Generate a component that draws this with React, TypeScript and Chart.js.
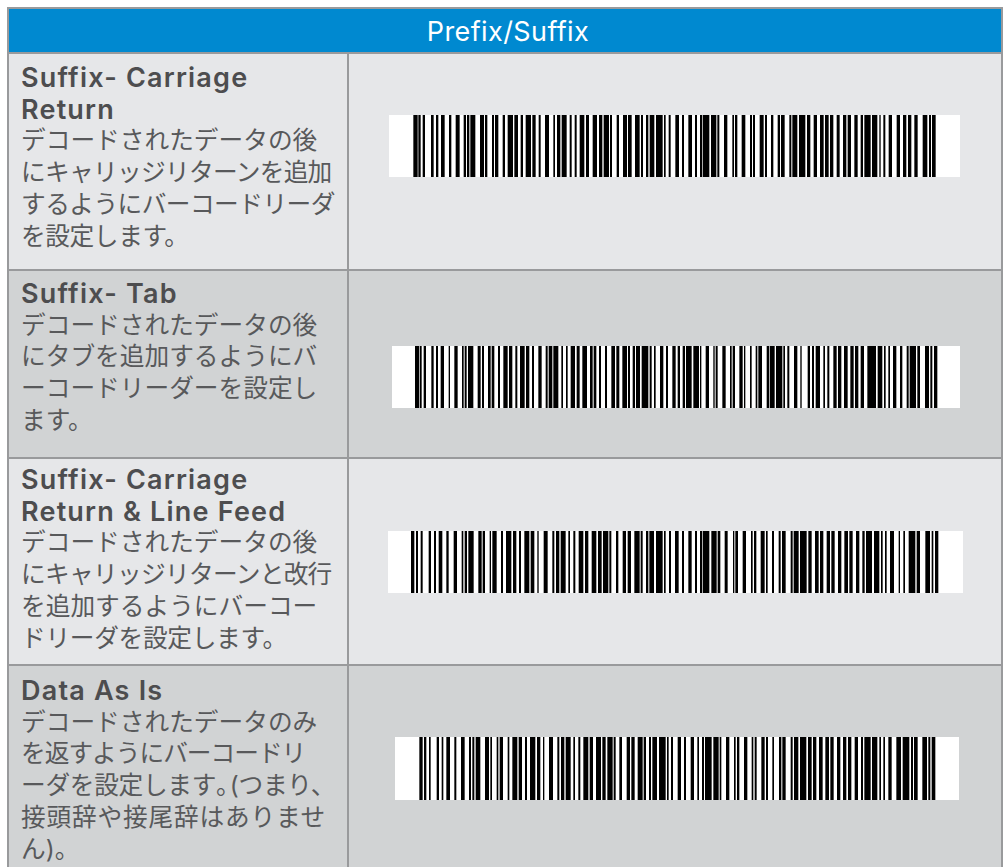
import React, { useEffect, useRef } from "react";
import { Chart, registerables } from "chart.js";

Chart.register(...registerables);

const headerTitle = "Prefix/Suffix";

const titles = [
  ["Suffix- Carriage", "Return"],
  ["Suffix- Tab"],
  ["Suffix- Carriage", "Return & Line Feed"],
  ["Data As Is"],
];

const descriptions = [
  ["デコードされたデータの後", "にキャリッジリターンを追加", "するようにバーコードリーダ", "を設定します。"],
  ["デコードされたデータの後", "にタブを追加するようにバ", "ーコードリーダーを設定し", "ます。"],
  ["デコードされたデータの後", "にキャリッジリターンと改行", "を追加するようにバーコー", "ドリーダを設定します。"],
  ["デコードされたデータのみ", "を返すようにバーコードリ", "ーダを設定します。(つまり、", "接頭辞や接尾辞はありませ", "ん)。"],
];

// Barcode bars as [start, end], in thirds of a picture pixel along each code's own axis.
const barsCarriageReturn: [number, number][] = [
  [85,98],[100,107],[113,120],[138,146],[153,160],[168,179],[192,199],[212,224],[236,243],[246,253],[256,271],[285,297],[300,307],[321,327],[330,340],[353,360],[368,384],[388,399],[407,414],[422,438],[442,452],[461,467],[480,492],[505,510],[516,526],[530,545],[554,560],[569,575],[584,598],[603,612],[623,636],[642,652],[656,672],[675,681],[695,702],[714,726],[729,740],[750,764],[768,774],[783,790],[794,808],[813,833],[837,842],[851,857],
  [871,882],[891,897],[910,921],[930,936],[945,951],[953,973],[978,994],[997,1003],[1017,1027],[1042,1047],[1050,1057],[1070,1081],[1095,1101],[1104,1110],[1124,1136],[1140,1146],[1158,1165],[1178,1185],[1188,1199],[1213,1219],[1222,1237],[1242,1261],[1266,1276],[1286,1296],[1305,1316],[1320,1331],[1335,1345],[1355,1364],[1374,1384],[1388,1398],[1408,1418],[1427,1434],[1438,1457],[1461,1477],[1483,1487],[1495,1501],[1511,1521],[1535,1545],[1554,1564],[1569,1579],[1588,1598],[1613,1627],[1632,1638],[1641,1652],
];
const barsTab: [number, number][] = [
  [90,103],[105,110],[116,123],[139,146],[153,159],[167,177],[191,195],[208,218],[231,236],[239,245],[249,265],[278,287],[291,297],[309,317],[320,328],[339,345],[355,368],[372,382],[391,397],[405,419],[423,433],[441,447],[460,470],[482,488],[491,502],[505,520],[529,534],[543,548],[557,570],[575,584],[592,606],[615,623],[626,634],[642,648],[660,666],[679,690],[694,703],[712,726],[729,735],[743,750],[753,765],[770,790],[794,800],[807,812],[825,835],[843,849],
  [862,872],[878,885],[893,900],[903,920],[925,942],[945,949],[962,972],[985,989],[992,998],[1012,1022],[1035,1040],[1043,1050],[1063,1073],[1077,1081],[1095,1100],[1112,1117],[1120,1131],[1145,1153],[1155,1169],[1173,1192],[1195,1200],[1207,1213],[1227,1237],[1246,1250],[1268,1275],[1281,1287],[1292,1305],[1315,1320],[1327,1333],[1345,1355],[1359,1369],[1377,1388],[1396,1406],[1410,1420],[1427,1437],[1447,1473],[1478,1492],[1497,1502],[1510,1515],[1524,1534],[1545,1552],[1565,1571],[1574,1593],[1597,1605],[1620,1632],[1636,1642],[1647,1657],
];
const barsCrLf: [number, number][] = [
  [78,88],[93,99],[107,113],[131,138],[147,153],[161,172],[184,191],[206,216],[230,235],[239,246],[250,266],[280,290],[293,300],[314,318],[322,335],[348,354],[363,379],[384,394],[402,408],[418,433],[437,448],[457,461],[476,488],[502,508],[513,523],[527,542],[550,555],[565,571],[581,595],[600,610],[620,634],[639,650],[654,670],[673,679],[693,700],[713,723],[728,738],[748,764],[767,773],[783,790],[793,807],[813,833],[837,842],[852,858],
  [870,881],[891,897],[910,920],[930,936],[945,951],[953,973],[979,995],[998,1006],[1019,1028],[1044,1048],[1051,1059],[1073,1083],[1098,1103],[1107,1114],[1127,1139],[1143,1148],[1161,1167],[1181,1187],[1191,1202],[1217,1223],[1226,1241],[1245,1265],[1270,1280],[1290,1301],[1305,1315],[1325,1335],[1339,1349],[1359,1369],[1378,1389],[1393,1403],[1413,1423],[1432,1439],[1443,1461],[1467,1483],[1488,1493],[1500,1505],[1515,1527],[1541,1545],[1555,1560],[1571,1591],[1595,1605],[1621,1635],[1640,1645],[1650,1660],
];
const barsDataAsIs: [number, number][] = [
  [103,113],[117,124],[132,137],[155,162],[170,175],[184,195],[208,214],[228,239],[252,258],[262,268],[272,286],[300,312],[316,321],[335,340],[344,354],[368,373],[382,397],[401,411],[420,426],[435,451],[456,466],[474,478],[492,504],[517,523],[528,538],[542,557],[565,570],[580,586],[595,610],[614,624],[633,648],[652,662],[667,683],[686,692],[703,711],[725,735],[739,749],[758,773],[776,783],[792,798],[802,816],[822,842],[846,851],
  [858,864],[878,888],[897,903],[917,927],[937,942],[951,957],[960,980],[985,1001],[1004,1009],[1023,1033],[1047,1052],[1056,1063],[1077,1087],[1100,1105],[1109,1115],[1129,1139],[1143,1149],[1162,1167],[1182,1189],[1192,1202],[1217,1223],[1227,1240],[1245,1264],[1269,1280],[1284,1294],[1302,1313],[1321,1332],[1336,1346],[1356,1366],[1374,1384],[1389,1399],[1409,1419],[1428,1434],[1438,1457],[1461,1477],[1483,1488],[1495,1500],[1510,1520],[1534,1548],[1553,1573],[1578,1584],[1587,1598],[1612,1626],[1630,1636],[1640,1651],
];
const barcodes = [barsCarriageReturn, barsTab, barsCrLf, barsDataAsIs];

// Where each code's axis begins and ends, in the same units as its bars.
const axisStart = [12, 21, 9, 30];
const axisEnd = [1725, 1725, 1734, 1722];

const BORDER = "#999a9c";
const ROW_COLORS = ["#e6e7e9", "#d1d3d4"];
const FONT = 'Inter, "Noto Sans CJK JP", sans-serif';

const rowTop = [54, 271, 459, 666];
const rowHeight = [215, 186, 205, 210];
const textTop = [62, 278, 464, 675];
const lineTracking = [
  [0, -0.7, -0.55, -0.4],
  [0, 0, 0, 0],
  [0, -0.7, 0, -0.3],
  [0, -1, -0.3, 0.8, 0],
];
const codeBox = [
  { left: 389, top: 115, width: 571, height: 62 },
  { left: 392, top: 346, width: 568, height: 62 },
  { left: 388, top: 531, width: 575, height: 62 },
  { left: 395, top: 737, width: 564, height: 63 },
];

function Barcode({ index }: { index: number }) {
  const ref = useRef<HTMLCanvasElement>(null);
  useEffect(() => {
    const chart = new Chart(ref.current!, {
      type: "bar",
      data: {
        labels: [titles[index].join(" ")],
        datasets: barcodes[index].map((bar) => ({
          data: [bar],
          backgroundColor: "#000000",
          borderWidth: 0,
          inflateAmount: 0,
          barPercentage: 1,
          categoryPercentage: 1,
          grouped: false,
        })),
      },
      options: {
        indexAxis: "y",
        animation: false,
        responsive: false,
        layout: { padding: 0 },
        plugins: { legend: { display: false }, tooltip: { enabled: false } },
        scales: {
          x: { type: "linear", min: axisStart[index], max: axisEnd[index], display: false },
          y: { type: "category", display: false },
        },
      },
    } as any);
    return () => chart.destroy();
  }, [index]);
  const box = codeBox[index];
  return (
    <canvas
      ref={ref}
      width={box.width}
      height={box.height}
      style={{ position: "absolute", left: box.left, top: box.top, width: box.width, height: box.height, background: "#ffffff" }}
    />
  );
}

function DescriptionLine({ text, tracking }: { text: string; tracking: number }) {
  const style = { color: "#58595b", letterSpacing: tracking };
  const cut = text.indexOf("。(");
  if (cut < 0) return <div style={style}>{text}</div>;
  return (
    <div style={style}>
      {text.slice(0, cut)}
      <span style={{ letterSpacing: -11 }}>。</span>
      {text.slice(cut + 1)}
    </div>
  );
}

export default function App() {
  return (
    <div style={{ position: "fixed", left: 0, top: 0, width: 1003, height: 867, overflow: "hidden", background: "#ffffff", fontFamily: FONT }}>
      <div style={{ position: "absolute", left: 7, top: 7, width: 996, height: 860, background: BORDER }} />
      <div
        style={{
          position: "absolute", left: 9, top: 9, width: 992, height: 45, background: "#0089d0", color: "#ffffff",
          fontSize: 27, letterSpacing: 0.4, lineHeight: "45px", textAlign: "center", paddingLeft: 6, boxSizing: "border-box",
        }}
      >
        {headerTitle}
      </div>
      <div style={{ position: "absolute", left: 9, top: 52, width: 992, height: 2, background: BORDER }} />
      {rowTop.map((top, i) => (
        <React.Fragment key={i}>
          <div style={{ position: "absolute", left: 9, top, width: 338, height: rowHeight[i], background: ROW_COLORS[i % 2] }} />
          <div style={{ position: "absolute", left: 349, top, width: 652, height: rowHeight[i], background: ROW_COLORS[i % 2] }} />
          <div style={{ position: "absolute", left: 21, top: textTop[i], width: 326, fontSize: 24.7, lineHeight: "31.7px", whiteSpace: "nowrap" }}>
            {titles[i].map((line, j) => (
              <div key={j} style={{ color: "#4d4d4f", fontWeight: 600, fontSize: 27, letterSpacing: 1.2 }}>{line}</div>
            ))}
            {descriptions[i].map((line, j) => (
              <DescriptionLine key={j} text={line} tracking={lineTracking[i][j]} />
            ))}
          </div>
          <Barcode index={i} />
        </React.Fragment>
      ))}
    </div>
  );
}
